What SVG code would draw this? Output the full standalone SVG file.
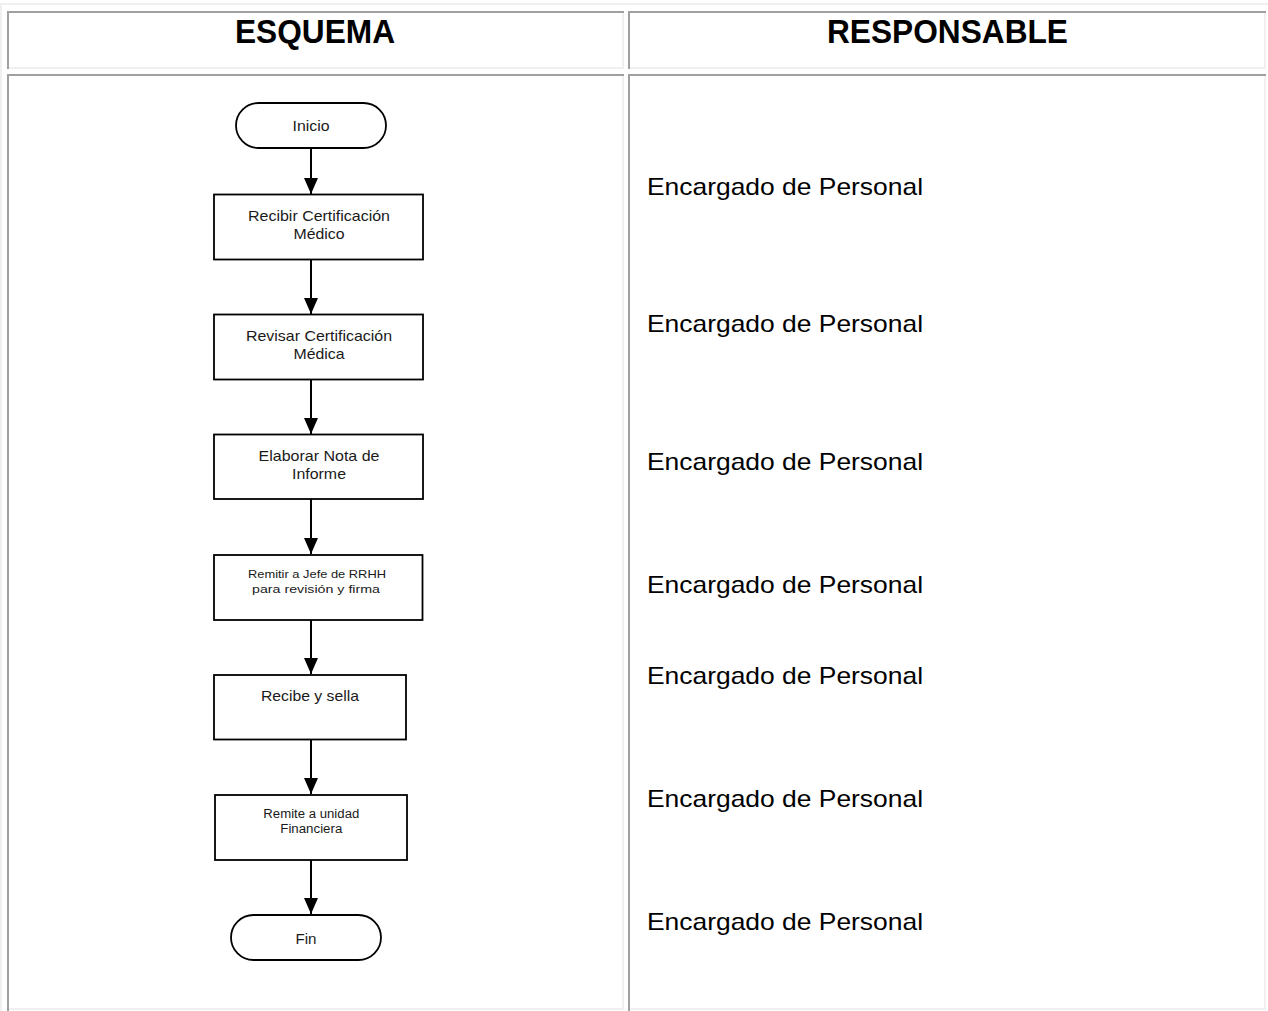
<svg xmlns="http://www.w3.org/2000/svg" width="1268" height="1011" viewBox="0 0 1268 1011">
  <style>
    .dk { fill: #a0a0a0; }
    .lt { fill: #f0f0f0; }
    .shape { fill: #ffffff; stroke: #000000; stroke-width: 1.8; }
    .lbl { font-family: "Liberation Sans", Arial, Helvetica, sans-serif; fill: #1a1a1a; text-anchor: middle; }
    .hdr { font-family: "Liberation Sans", Arial, Helvetica, sans-serif; font-weight: bold; font-size: 33px; fill: #000000; text-anchor: middle; }
    .resp { font-family: "Liberation Sans", Arial, Helvetica, sans-serif; font-size: 24px; fill: #000000; }
    .conn { stroke: #000000; stroke-width: 2; fill: none; }
  </style>
  <defs>
    <marker id="arrow" markerUnits="userSpaceOnUse" markerWidth="16" markerHeight="14" refX="16" refY="7" orient="auto">
      <path d="M0,0 L16,7 L0,14 Z" fill="#000000"/>
    </marker>
  </defs>

  <rect x="0" y="0" width="1268" height="1011" fill="#ffffff"/>

  <!-- table frame -->
  <g id="table">
    <rect class="lt" x="0" y="3" width="1268" height="2"/>
    <rect class="lt" x="0" y="3" width="2" height="1008"/>
    <!-- header cell: esquema -->
    <rect class="dk" x="7" y="11" width="617" height="2"/>
    <rect class="dk" x="7" y="11" width="2" height="58"/>
    <rect class="lt" x="622" y="13" width="2" height="56"/>
    <rect class="lt" x="9" y="67" width="615" height="2"/>
    <!-- header cell: responsable -->
    <rect class="dk" x="628" y="11" width="638" height="2"/>
    <rect class="dk" x="628" y="11" width="2" height="58"/>
    <rect class="lt" x="1264" y="13" width="2" height="56"/>
    <rect class="lt" x="630" y="67" width="636" height="2"/>
    <!-- body cell: esquema -->
    <rect class="dk" x="7" y="74" width="617" height="2"/>
    <rect class="dk" x="7" y="74" width="2" height="937"/>
    <rect class="lt" x="622" y="76" width="2" height="934"/>
    <rect class="lt" x="9" y="1008" width="615" height="2"/>
    <!-- body cell: responsable -->
    <rect class="dk" x="628" y="74" width="638" height="2"/>
    <rect class="dk" x="628" y="74" width="2" height="937"/>
    <rect class="lt" x="1264" y="76" width="2" height="934"/>
    <rect class="lt" x="630" y="1008" width="636" height="2"/>
  </g>

  <g id="headers">
    <text class="hdr" x="315" y="43" textLength="160" lengthAdjust="spacingAndGlyphs">ESQUEMA</text>
    <text class="hdr" x="947.5" y="43" textLength="241" lengthAdjust="spacingAndGlyphs">RESPONSABLE</text>
  </g>

  <!-- connectors -->
  <g id="connectors">
    <line class="conn" x1="311" y1="148" x2="311" y2="194" marker-end="url(#arrow)"/>
    <line class="conn" x1="311" y1="260" x2="311" y2="314" marker-end="url(#arrow)"/>
    <line class="conn" x1="311" y1="380" x2="311" y2="434" marker-end="url(#arrow)"/>
    <line class="conn" x1="311" y1="499" x2="311" y2="554" marker-end="url(#arrow)"/>
    <line class="conn" x1="311" y1="620" x2="311" y2="674" marker-end="url(#arrow)"/>
    <line class="conn" x1="311" y1="740" x2="311" y2="794" marker-end="url(#arrow)"/>
    <line class="conn" x1="311" y1="860" x2="311" y2="914" marker-end="url(#arrow)"/>
  </g>

  <g id="inicio">
    <rect class="shape" x="236" y="103" width="150" height="45" rx="22.5" ry="22.5"/>
    <text class="lbl" x="311" y="131" font-size="15" textLength="37" lengthAdjust="spacingAndGlyphs">Inicio</text>
  </g>

  <g id="recibir">
    <rect class="shape" x="214" y="194.5" width="209" height="65"/>
    <text class="lbl" x="319" y="220.5" font-size="15" textLength="142" lengthAdjust="spacingAndGlyphs">Recibir Certificación</text>
    <text class="lbl" x="319" y="239" font-size="15" textLength="51" lengthAdjust="spacingAndGlyphs">Médico</text>
  </g>

  <g id="revisar">
    <rect class="shape" x="214" y="314.5" width="209" height="65"/>
    <text class="lbl" x="319" y="340.5" font-size="15" textLength="146" lengthAdjust="spacingAndGlyphs">Revisar Certificación</text>
    <text class="lbl" x="319" y="359" font-size="15" textLength="51" lengthAdjust="spacingAndGlyphs">Médica</text>
  </g>

  <g id="elaborar">
    <rect class="shape" x="214" y="434.5" width="209" height="64.5"/>
    <text class="lbl" x="319" y="460.5" font-size="15" textLength="121" lengthAdjust="spacingAndGlyphs">Elaborar Nota de</text>
    <text class="lbl" x="319" y="479" font-size="15" textLength="54" lengthAdjust="spacingAndGlyphs">Informe</text>
  </g>

  <g id="remitir">
    <rect class="shape" x="214" y="555" width="208.5" height="65"/>
    <text class="lbl" x="317" y="578.3" font-size="11.5" textLength="138" lengthAdjust="spacingAndGlyphs">Remitir a Jefe de RRHH</text>
    <text class="lbl" x="316" y="592.7" font-size="11.5" textLength="128" lengthAdjust="spacingAndGlyphs">para revisión y firma</text>
  </g>

  <g id="recibe">
    <rect class="shape" x="214" y="675" width="192" height="64.5"/>
    <text class="lbl" x="310" y="701" font-size="15" textLength="98" lengthAdjust="spacingAndGlyphs">Recibe y sella</text>
  </g>

  <g id="remite">
    <rect class="shape" x="215" y="795" width="192" height="65"/>
    <text class="lbl" x="311.3" y="818.3" font-size="12.5" textLength="96" lengthAdjust="spacingAndGlyphs">Remite a unidad</text>
    <text class="lbl" x="311.3" y="833.3" font-size="12.5" textLength="62" lengthAdjust="spacingAndGlyphs">Financiera</text>
  </g>

  <g id="fin">
    <rect class="shape" x="231" y="915" width="150" height="45" rx="22.5" ry="22.5"/>
    <text class="lbl" x="306" y="944" font-size="15" textLength="21" lengthAdjust="spacingAndGlyphs">Fin</text>
  </g>

  <g id="responsables">
    <text class="resp" x="647" y="194.5" textLength="276" lengthAdjust="spacingAndGlyphs">Encargado de Personal</text>
    <text class="resp" x="647" y="331.5" textLength="276" lengthAdjust="spacingAndGlyphs">Encargado de Personal</text>
    <text class="resp" x="647" y="469.5" textLength="276" lengthAdjust="spacingAndGlyphs">Encargado de Personal</text>
    <text class="resp" x="647" y="592.5" textLength="276" lengthAdjust="spacingAndGlyphs">Encargado de Personal</text>
    <text class="resp" x="647" y="683.5" textLength="276" lengthAdjust="spacingAndGlyphs">Encargado de Personal</text>
    <text class="resp" x="647" y="806.5" textLength="276" lengthAdjust="spacingAndGlyphs">Encargado de Personal</text>
    <text class="resp" x="647" y="929.5" textLength="276" lengthAdjust="spacingAndGlyphs">Encargado de Personal</text>
  </g>
</svg>
